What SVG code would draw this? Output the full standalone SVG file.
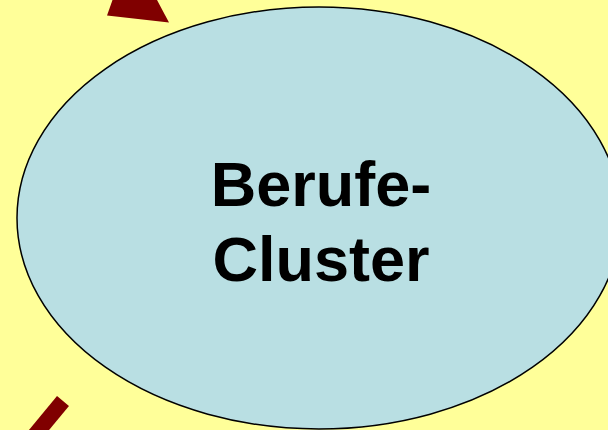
<svg xmlns="http://www.w3.org/2000/svg" width="608" height="430" viewBox="0 0 608 430">
<style>
.conn{stroke:#800000;stroke-width:15.5;fill:none;stroke-linecap:butt}
.head{fill:#800000;stroke:none}
.node{fill:#B9DFE3;stroke:#000;stroke-width:1.5}
.lbl{font-family:"Liberation Sans",Arial,sans-serif;font-weight:bold;font-size:63px;fill:#000;text-anchor:middle}
</style>
<rect width="608" height="430" fill="#FFFF99"/>
<g id="connectors">
<polygon class="head" points="112.5,0 157,0 169,22.5 107,15.5"/>
<line class="conn" x1="63" y1="401" x2="20" y2="453"/>
</g>
<g id="node-berufe-cluster">
<ellipse class="node" cx="319" cy="218" rx="302" ry="211"/>
<text class="lbl" x="321" y="206">Berufe-</text>
<text class="lbl" x="321" y="281">Cluster</text>
</g>
</svg>
